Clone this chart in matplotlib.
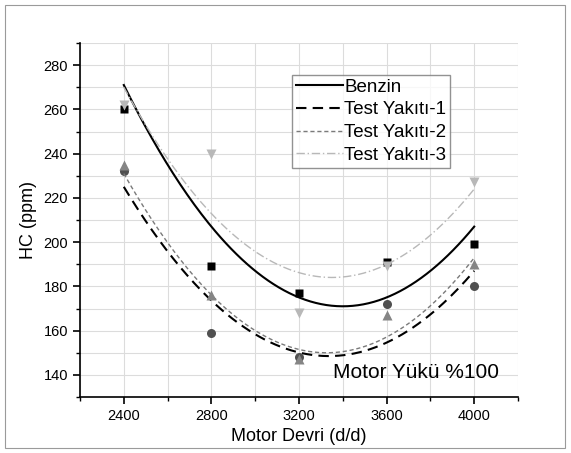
import numpy as np
import matplotlib
matplotlib.use("Agg")
import matplotlib.pyplot as plt
from matplotlib.patches import Rectangle
from matplotlib.ticker import MultipleLocator

plt.rcParams['font.family'] = ['Liberation Sans', 'DejaVu Sans']

rpm = [2400, 2800, 3200, 3600, 4000]

# measured HC values (markers)
benzin = [260, 189, 177, 191, 199]
test1 = [232, 159, 148, 172, 180]
test2 = [235, 176, 147, 167, 190]
test3 = [262, 240, 168, 189, 227]

# trend-curve values at each rpm
benzin_fit = [271, 207, 175, 175, 207]
test1_fit = [225, 173.6, 150.1, 154.6, 187]
test2_fit = [231, 176.1, 151.5, 157.1, 192.9]
test3_fit = [270, 212.9, 186.2, 189.9, 224]

labels = ['Benzin', 'Test Yakıtı-1', 'Test Yakıtı-2', 'Test Yakıtı-3']

fig = plt.figure(figsize=(5.71, 4.53), dpi=100)
fig.patches.append(Rectangle((5/571, 5/453), 560/571, 443/453, transform=fig.transFigure,
                             fill=False, edgecolor='#9a9a9a', linewidth=0.8))
ax = fig.add_axes([80/571, 1 - 397/453, 438/571, 354/453])

xs = np.linspace(2400, 4000, 200)
line_styles = [
    dict(color='black', lw=1.5, ls='-'),
    dict(color='black', lw=1.5, ls=(0, (5, 3))),
    dict(color='#7a7a7a', lw=1.0, ls=(0, (3, 2))),
    dict(color='#b8b8b8', lw=1.0, ls=(0, (6, 2, 1, 2))),
]
marker_styles = [
    dict(marker='s', color='black', ms=6),
    dict(marker='o', color='#505050', ms=6.5),
    dict(marker='^', color='#858585', ms=7),
    dict(marker='v', color='#b8b8b8', ms=7),
]

series = [benzin, test1, test2, test3]
fits = [benzin_fit, test1_fit, test2_fit, test3_fit]
for vals, fit, lab, ls, ms in zip(series, fits, labels, line_styles, marker_styles):
    c = np.polyfit(rpm, fit, 2)
    ax.plot(xs, np.polyval(c, xs), label=lab, **ls)
    ax.plot(rpm, vals, ls='none', mec='none', **ms)

ax.set_xlim(2200, 4200)
ax.set_ylim(130, 290)
ax.xaxis.set_major_locator(MultipleLocator(400))
ax.xaxis.set_minor_locator(MultipleLocator(200))
ax.yaxis.set_major_locator(MultipleLocator(20))
ax.yaxis.set_minor_locator(MultipleLocator(10))
ax.set_yticks(range(140, 290, 20))
ax.grid(which='both', color='#dcdcdc', lw=0.8)
ax.set_axisbelow(True)
for s in ['top', 'right']:
    ax.spines[s].set_visible(False)
for s in ['left', 'bottom']:
    ax.spines[s].set_linewidth(1.2)
ax.tick_params(which='major', direction='out', length=5, width=1.2, labelsize=10.5)
ax.tick_params(which='minor', direction='out', length=3, width=1.0)

ax.set_xlabel('Motor Devri (d/d)', fontsize=13, labelpad=4)
ax.set_ylabel('HC (ppm)', fontsize=13, labelpad=5)

leg = ax.legend(loc='upper left', bbox_to_anchor=(0.484, 0.91), fontsize=13.5,
                frameon=True, fancybox=False, handlelength=2.5, handletextpad=0.1,
                borderpad=0.2, labelspacing=0.3, borderaxespad=0)
leg.get_frame().set_edgecolor('#777777')
leg.get_frame().set_linewidth(1.0)

ax.text(0.956, 0.07, 'Motor Yükü %100', transform=ax.transAxes, ha='right', va='center',
        fontsize=15)

fig.savefig('out.png', dpi=100)
